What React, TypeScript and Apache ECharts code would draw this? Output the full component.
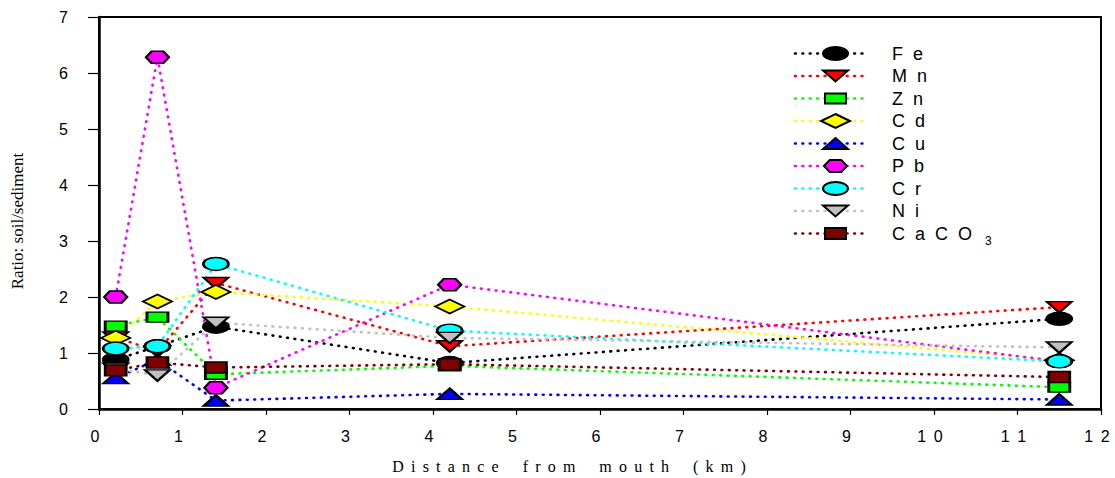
import React, { useEffect, useRef } from 'react';
import * as echarts from 'echarts';

// ---- data ----
const distances = [0.2, 0.7, 1.4, 4.2, 11.5];
const elementNames = ['Fe', 'Mn', 'Zn', 'Cd', 'Cu', 'Pb', 'Cr', 'Ni', 'CaCO3'];
const feRatio = [0.88, 1.12, 1.47, 0.82, 1.61];
const mnRatio = [1.28, 1.03, 2.25, 1.12, 1.82];
const znRatio = [1.48, 1.64, 0.62, 0.77, 0.39];
const cdRatio = [1.27, 1.92, 2.09, 1.83, 0.87];
const cuRatio = [0.55, 0.88, 0.15, 0.27, 0.17];
const pbRatio = [2.0, 6.28, 0.38, 2.22, 0.85];
const crRatio = [1.08, 1.12, 2.59, 1.4, 0.85];
const niRatio = [0.72, 0.6, 1.54, 1.27, 1.1];
const caco3Ratio = [0.69, 0.83, 0.74, 0.8, 0.57];
const seriesValues = [feRatio, mnRatio, znRatio, cdRatio, cuRatio, pbRatio, crRatio, niRatio, caco3Ratio];
const legendLabels = ['F e', 'M n', 'Z n', 'C d', 'C u', 'P b', 'C r', 'N i', 'C a C O'];
const legendSubscripts = ['', '', '', '', '', '', '', '', '3'];
const xTitleWords = ['Distance', 'from', 'mouth', '(km)'];
const yTitle = 'Ratio: soil/sediment';

// ---- styles ----
const lineColors = ['#000000', '#ff0000', '#00ff00', '#ffff00', '#0000ff', '#ff00ff', '#00ffff', '#c0c0c0', '#800000'];
const markerShapes = ['ellipse', 'triDown', 'rect', 'diamond', 'triUp', 'hexagon', 'ellipse', 'triDown', 'rect'];
const markerSizes: number[][] = [[25, 13], [25, 11], [21, 10], [29, 14], [25, 11], [23, 12], [25, 13], [25, 11], [21, 11]];

const UNIT_POLYS: Record<string, number[][]> = {
  triUp: [[0.5, 0], [1, 1], [0, 1]],
  triDown: [[0, 0], [1, 0], [0.5, 1]],
  rect: [[0, 0], [1, 0], [1, 1], [0, 1]],
  diamond: [[0.5, 0], [1, 0.5], [0.5, 1], [0, 0.5]],
  hexagon: [[0, 0.5], [0.25, 0], [0.75, 0], [1, 0.5], [0.75, 1], [0.25, 1]],
};

function symbolPath(shape: string): string {
  if (shape === 'ellipse') return 'path://M0,50 A50,50 0 1,1 100,50 A50,50 0 1,1 0,50 Z';
  const pts = UNIT_POLYS[shape];
  return 'path://' + pts.map((p, i) => (i ? 'L' : 'M') + p[0] * 100 + ',' + p[1] * 100).join(' ') + ' Z';
}

const SANS = '"Liberation Sans", Arial, Helvetica, sans-serif';
const SERIF = '"Liberation Serif", "Times New Roman", Times, serif';
const LETTER_GAP = '\u00a0\u2009';
const spacedWord = (w: string) => w.split('').join(LETTER_GAP);
const LINE_DASH = [0.8, 6.6];

export default function App() {
  const ref = useRef<HTMLDivElement>(null);
  useEffect(() => {
    if (!ref.current) return;
    const chart = echarts.init(ref.current, undefined, { renderer: 'svg' });

    const lineSeries = elementNames.map((name, i) => ({
      name,
      type: 'line',
      data: distances.map((d, j) => [d, seriesValues[i][j]]),
      symbol: 'none',
      z: 2,
      lineStyle: { color: lineColors[i], width: 2.6, type: LINE_DASH, cap: 'round' },
      itemStyle: { color: lineColors[i] },
    }));
    const markerSeries = elementNames.map((name, i) => ({
      name,
      type: 'scatter',
      data: distances.map((d, j) => [d, seriesValues[i][j]]),
      symbol: symbolPath(markerShapes[i]),
      symbolSize: markerSizes[i],
      z: 3,
      itemStyle: { color: lineColors[i], borderColor: '#000', borderWidth: 2, opacity: 1 },
    }));

    // legend built as graphic
    const LX0 = 795, LX1 = 866, LMX = 835.5, LTX = 892, LY0 = 53.5, LDY = 22.5;
    const legendEls: any[] = [];
    elementNames.forEach((name, i) => {
      const y = LY0 + i * LDY;
      legendEls.push({
        type: 'line',
        shape: { x1: LX0, y1: y, x2: LX1, y2: y },
        style: { stroke: lineColors[i], lineWidth: 2.6, lineDash: LINE_DASH, lineCap: 'round' },
        z: 10,
      });
      const [w, h] = markerSizes[i];
      const shape = markerShapes[i];
      const mstyle = { fill: lineColors[i], stroke: '#000', lineWidth: 2 };
      if (shape === 'ellipse') {
        legendEls.push({ type: 'ellipse', shape: { cx: LMX, cy: y, rx: w / 2, ry: h / 2 }, style: mstyle, z: 11 });
      } else {
        const pts = UNIT_POLYS[shape].map((p) => [LMX + (p[0] - 0.5) * w, y + (p[1] - 0.5) * h]);
        legendEls.push({ type: 'polygon', shape: { points: pts }, style: mstyle, z: 11 });
      }
      legendEls.push({
        type: 'text',
        x: LTX,
        y,
        style: {
          text: legendLabels[i].split(' ').join('\u00a0\u00a0'),
          fill: '#000',
          fontSize: 18,
          fontFamily: SANS,
          align: 'left',
          verticalAlign: 'middle',
        },
        z: 11,
      });
      if (legendSubscripts[i]) {
        legendEls.push({
          type: 'text',
          x: 985,
          y: y + 7,
          style: { text: legendSubscripts[i], fill: '#000', fontSize: 12, fontFamily: SANS, align: 'left', verticalAlign: 'middle' },
          z: 11,
        });
      }
    });

    const option: any = {
      animation: false,
      backgroundColor: '#ffffff',
      grid: { left: 99, right: 14, top: 17, bottom: 69, show: true, borderColor: '#000', borderWidth: 2, backgroundColor: 'transparent' },
      xAxis: {
        type: 'value',
        min: 0,
        max: 12,
        interval: 1,
        splitLine: { show: false },
        axisLine: { show: true, onZero: false, lineStyle: { color: '#000', width: 2.5 } },
        axisTick: { show: true, length: 6, lineStyle: { color: '#000', width: 1.2 } },
        axisLabel: {
          color: '#000',
          fontSize: 16,
          fontFamily: SANS,
          margin: 19,
          padding: [0, 8, 0, 0],
          formatter: (v: number) => String(v).split('').join(LETTER_GAP),
        },
      },
      yAxis: {
        type: 'value',
        min: 0,
        max: 7,
        interval: 1,
        splitLine: { show: false },
        axisLine: { show: true, onZero: false, lineStyle: { color: '#000', width: 2.5 } },
        axisTick: { show: true, length: 11, lineStyle: { color: '#000', width: 1.2 } },
        axisLabel: { color: '#000', fontSize: 16, fontFamily: SANS, margin: 31 },
      },
      graphic: [
        {
          type: 'text',
          x: 17,
          y: 221,
          rotation: Math.PI / 2,
          style: { text: yTitle, fill: '#000', fontSize: 17, fontFamily: SERIF, align: 'center', verticalAlign: 'middle' },
        },
        {
          type: 'text',
          x: 569,
          y: 466,
          style: {
            text: xTitleWords.map(spacedWord).join('\u00a0\u00a0\u00a0\u00a0\u00a0\u00a0'),
            fill: '#000',
            fontSize: 16,
            fontFamily: SERIF,
            align: 'center',
            verticalAlign: 'middle',
          },
        },
        ...legendEls,
      ],
      series: [...lineSeries, ...markerSeries],
    };
    chart.setOption(option);
    return () => chart.dispose();
  }, []);
  return (
    <div
      ref={ref}
      style={{ position: 'absolute', left: 0, top: 0, width: 1115, height: 478, background: '#fff' }}
    />
  );
}
